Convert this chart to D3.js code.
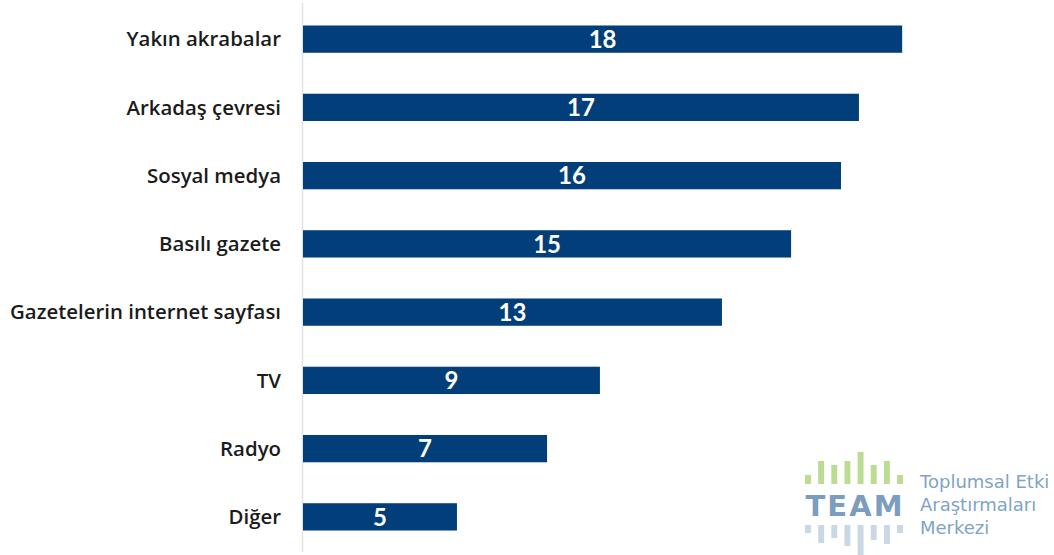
<!DOCTYPE html>
<html lang="tr">
<head>
<meta charset="UTF-8">
<title>Haber kaynakları</title>
<script src="https://cdnjs.cloudflare.com/ajax/libs/d3/7.8.5/d3.min.js"></script>
<style>
  body { margin: 0; background: #fff; }
  svg { display: block; }
</style>
</head>
<body>
<div id="chart"></div>
<script>
  // data
  var categories = ["Yakın akrabalar", "Arkadaş çevresi", "Sosyal medya", "Basılı gazete",
                    "Gazetelerin internet sayfası", "TV", "Radyo", "Diğer"];
  var values = [18.02, 16.72, 16.18, 14.68, 12.6, 8.93, 7.34, 4.63];
  var valueLabels = [18, 17, 16, 15, 13, 9, 7, 5];

  // logo decoration bars (relative heights)
  var logoTop = [9, 23, 19, 23, 32, 19, 23, 9];
  var logoBottom = [8, 18, 13, 21, 30, 15, 19, 8];
  var logoLines = ["Toplumsal Etki", "Araştırmaları", "Merkezi"];

  var width = 1054, height = 555;
  var barColor = "#023f7a";

  var svg = d3.select("#chart").append("svg")
    .attr("width", width)
    .attr("height", height);

  var x = d3.scaleLinear().domain([0, 20]).range([303, 968]);
  var y = d3.scaleBand().domain(categories).range([5, 551])
    .paddingInner(0.6).paddingOuter(0.3);

  // axis line
  svg.append("line")
    .attr("x1", 302.5).attr("x2", 302.5)
    .attr("y1", 3).attr("y2", 552)
    .attr("stroke", "#e3e3e3").attr("stroke-width", 1.5);

  var rows = categories.map(function(c, i) {
    return { cat: c, value: values[i], label: valueLabels[i] };
  });

  svg.selectAll("rect.bar")
    .data(rows)
    .enter().append("rect")
    .attr("class", "bar")
    .attr("x", x(0))
    .attr("y", function(d) { return y(d.cat); })
    .attr("width", function(d) { return x(d.value) - x(0); })
    .attr("height", y.bandwidth())
    .attr("fill", barColor);

  svg.selectAll("text.val")
    .data(rows)
    .enter().append("text")
    .attr("class", "val")
    .attr("x", function(d) { return (x(0) + x(d.value)) / 2; })
    .attr("y", function(d) { return y(d.cat) + y.bandwidth() / 2; })
    .attr("dy", "0.36em")
    .attr("text-anchor", "middle")
    .attr("fill", "#fff")
    .style("font-family", "Lato, 'Open Sans', sans-serif")
    .style("font-weight", 700)
    .style("font-size", "24px")
    .text(function(d) { return d.label; });

  svg.selectAll("text.cat")
    .data(rows)
    .enter().append("text")
    .attr("class", "cat")
    .attr("x", 281)
    .attr("y", function(d) { return y(d.cat) + y.bandwidth() / 2; })
    .attr("dy", "0.36em")
    .attr("text-anchor", "end")
    .attr("fill", "#1b1b1b")
    .style("font-family", "'Open Sans', sans-serif")
    .style("font-weight", 600)
    .style("font-size", "20.4px")
    .text(function(d) { return d.cat; });

  // TEAM logo
  var logo = svg.append("g").attr("transform", "translate(805,0)");
  var lx = d3.scaleBand().domain(d3.range(8)).range([0, 98]).paddingInner(0.55);

  logo.selectAll("rect.top")
    .data(logoTop)
    .enter().append("rect")
    .attr("x", function(d, i) { return lx(i); })
    .attr("y", function(d) { return 484 - d; })
    .attr("width", lx.bandwidth())
    .attr("height", function(d) { return d; })
    .attr("fill", "#bcdc94");

  logo.selectAll("rect.bot")
    .data(logoBottom)
    .enter().append("rect")
    .attr("x", function(d, i) { return lx(i); })
    .attr("y", 525)
    .attr("width", lx.bandwidth())
    .attr("height", function(d) { return d; })
    .attr("fill", "#cad8e5");

  logo.append("text")
    .attr("x", 49).attr("y", 516)
    .attr("text-anchor", "middle")
    .attr("textLength", 97)
    .attr("lengthAdjust", "spacing")
    .attr("fill", "#7b9dbf")
    .style("font-family", "'DejaVu Sans', sans-serif")
    .style("font-weight", 700)
    .style("font-size", "29px")
    .text("TEAM");

  logo.selectAll("text.line")
    .data(logoLines)
    .enter().append("text")
    .attr("class", "line")
    .attr("x", 115)
    .attr("y", function(d, i) { return 488 + i * 23; })
    .attr("fill", "#80a4c6")
    .style("font-family", "'DejaVu Sans', sans-serif")
    .style("font-size", "18px")
    .text(function(d) { return d; });
</script>
</body>
</html>
